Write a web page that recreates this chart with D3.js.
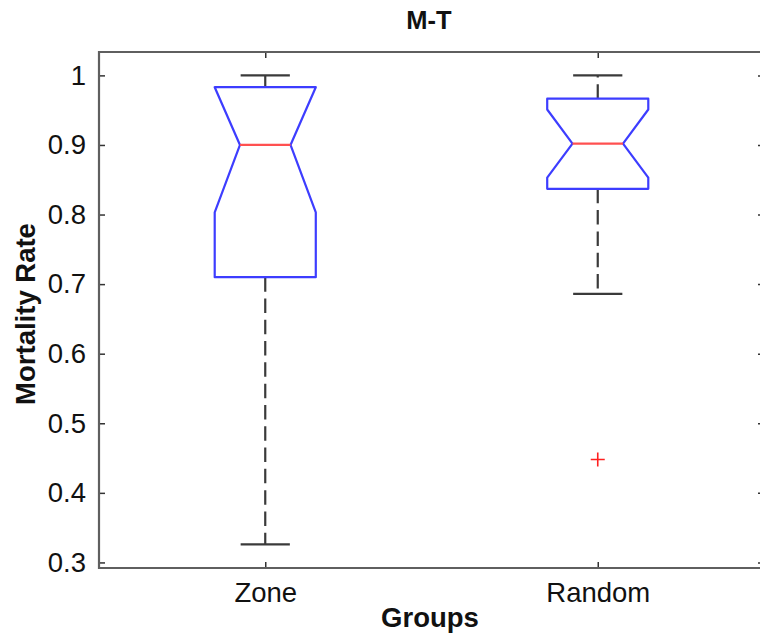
<!DOCTYPE html>
<html>
<head>
<meta charset="utf-8">
<script src="https://cdn.jsdelivr.net/npm/d3@7"></script>
<style>
  html, body { margin: 0; padding: 0; background: #fff; overflow: hidden; width: 760px; height: 640px; }
  svg { display: block; font-family: "Liberation Sans", Arial, sans-serif; }
</style>
</head>
<body>
<svg id="chart" width="760" height="640"></svg>
<script>
// Group summaries for the notched box plot
const groups      = ["Zone", "Random"];
const q1          = [0.710, 0.837];
const medians     = [0.900, 0.902];
const q3          = [0.983, 0.9665];
const notchLow    = [0.803, 0.853];
const notchHigh   = [0.997, 0.951];
const whiskerLow  = [0.326, 0.686];
const whiskerHigh = [1.000, 1.000];
const outliers    = [[], [0.448]];
const yTicks      = [0.3, 0.4, 0.5, 0.6, 0.7, 0.8, 0.9, 1.0];

const svg = d3.select("#chart");
const plotLeft = 99, plotRight = 764, plotTop = 52, plotBottom = 568;

const x = d3.scaleLinear().domain([0.5, groups.length + 0.5]).range([plotLeft, plotRight]);
const y = d3.scaleLinear().domain([0.292, 1.0336]).range([plotBottom, plotTop]);

const boxHalf = 0.152;      // half box width, in group units
const notchHalf = boxHalf / 2;
const capHalf = 0.074;

const axisColor = "#5f5f5f";
const textColor = "#111";
const whiskerColor = "#3a3a3a";

// Axes (ticks drawn inward on all four sides)
const tickFmt = d => d3.format("~g")(d);
svg.append("g").attr("transform", `translate(${plotLeft},0)`)
  .call(d3.axisLeft(y).tickValues(yTicks).tickSize(-6).tickPadding(13).tickFormat(tickFmt))
  .call(g => g.selectAll("text").attr("font-size", 27.5).attr("fill", textColor));
svg.append("g").attr("transform", `translate(${plotRight},0)`)
  .call(d3.axisRight(y).tickValues(yTicks).tickSize(-6).tickFormat(""));
svg.append("g").attr("transform", `translate(0,${plotBottom})`)
  .call(d3.axisBottom(x).tickValues(groups.map((g, i) => i + 1)).tickSize(-6).tickPadding(14)
    .tickFormat((d) => groups[d - 1]))
  .call(g => g.selectAll("text").attr("font-size", 27.5).attr("fill", textColor));
svg.append("g").attr("transform", `translate(0,${plotTop})`)
  .call(d3.axisTop(x).tickValues(groups.map((g, i) => i + 1)).tickSize(-6).tickFormat(""));

svg.selectAll(".domain").remove();
svg.selectAll(".tick line").attr("stroke", "#333").attr("stroke-width", 1.5);

// Frame: left, top and bottom edges; the right edge falls past the canvas
const frame = svg.append("g").attr("stroke", axisColor).attr("stroke-width", 2.2);
frame.append("line").attr("x1", plotLeft).attr("x2", plotLeft).attr("y1", plotTop - 1).attr("y2", plotBottom + 1);
frame.append("line").attr("x1", plotLeft).attr("x2", plotRight).attr("y1", plotTop).attr("y2", plotTop);
frame.append("line").attr("x1", plotLeft).attr("x2", plotRight).attr("y1", plotBottom).attr("y2", plotBottom);

// Boxes
const plot = svg.append("g");
groups.forEach((g, i) => {
  const c = i + 1;
  const nHi = Math.min(notchHigh[i], q3[i]);
  const nLo = Math.max(notchLow[i], q1[i]);

  // whiskers
  plot.append("line")
    .attr("x1", x(c)).attr("x2", x(c))
    .attr("y1", y(q3[i])).attr("y2", y(whiskerHigh[i]))
    .attr("stroke", whiskerColor).attr("stroke-width", 2.2).attr("stroke-dasharray", "14.5,6.8");
  plot.append("line")
    .attr("x1", x(c)).attr("x2", x(c))
    .attr("y1", y(q1[i])).attr("y2", y(whiskerLow[i]))
    .attr("stroke", whiskerColor).attr("stroke-width", 2.2).attr("stroke-dasharray", "14.5,6.8");
  [whiskerHigh[i], whiskerLow[i]].forEach(v => {
    plot.append("line")
      .attr("x1", x(c - capHalf)).attr("x2", x(c + capHalf))
      .attr("y1", y(v)).attr("y2", y(v))
      .attr("stroke", whiskerColor).attr("stroke-width", 2.2);
  });

  // notched box outline
  const pts = [
    [c - boxHalf, q3[i]], [c + boxHalf, q3[i]],
    [c + boxHalf, nHi], [c + notchHalf, medians[i]],
    [c + boxHalf, nLo], [c + boxHalf, q1[i]],
    [c - boxHalf, q1[i]], [c - boxHalf, nLo],
    [c - notchHalf, medians[i]], [c - boxHalf, nHi]
  ];
  plot.append("path")
    .attr("d", d3.line().x(d => x(d[0])).y(d => y(d[1]))(pts) + "Z")
    .attr("fill", "none").attr("stroke", "#3d3dff").attr("stroke-width", 2.2)
    .attr("stroke-linejoin", "round");

  // median
  plot.append("line")
    .attr("x1", x(c - notchHalf)).attr("x2", x(c + notchHalf))
    .attr("y1", y(medians[i])).attr("y2", y(medians[i]))
    .attr("stroke", "#ff5050").attr("stroke-width", 2.2);

  // outliers
  outliers[i].forEach(v => {
    const px = x(c), py = y(v), s = 7;
    plot.append("path")
      .attr("d", `M${px - s},${py}H${px + s}M${px},${py - s}V${py + s}`)
      .attr("stroke", "#ff2020").attr("stroke-width", 1.6);
  });
});

// Titles
svg.append("text")
  .attr("x", 429).attr("y", 29)
  .attr("text-anchor", "middle").attr("font-size", 25.5).attr("font-weight", "bold")
  .attr("fill", textColor).text("M-T");
svg.append("text")
  .attr("x", 430).attr("y", 627)
  .attr("text-anchor", "middle").attr("font-size", 27.5).attr("font-weight", "bold")
  .attr("fill", textColor).text("Groups");
svg.append("text")
  .attr("transform", `translate(35,${(plotTop + plotBottom) / 2 + 4}) rotate(-90)`)
  .attr("text-anchor", "middle").attr("font-size", 27.5).attr("font-weight", "bold")
  .attr("fill", textColor).text("Mortality Rate");
</script>
</body>
</html>
